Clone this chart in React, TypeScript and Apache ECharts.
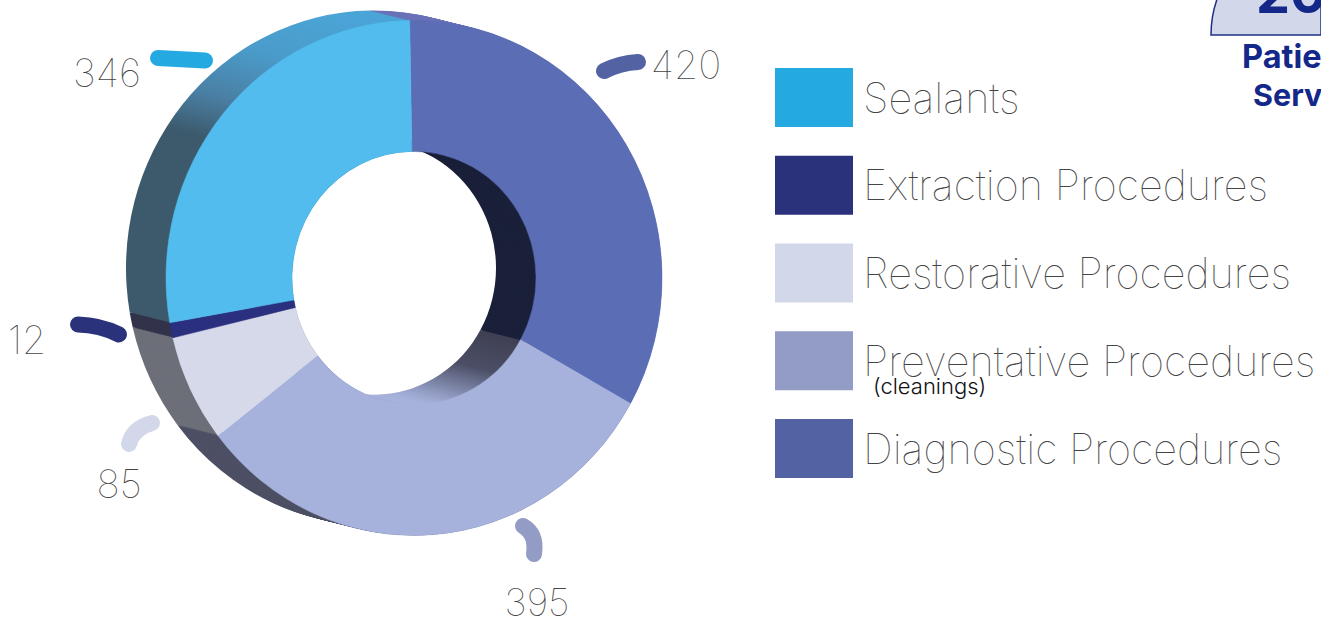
import React, { useEffect, useRef } from "react";
import * as echarts from "echarts";

// Procedure counts, clockwise from the top of the ring
const procedures = ["Diagnostic Procedures", "Preventative Procedures", "Restorative Procedures", "Extraction Procedures", "Sealants"];
const procedureCounts = [420, 395, 85, 12, 346];

// Legend runs in its own order
const legendOrder = ["Sealants", "Extraction Procedures", "Restorative Procedures", "Preventative Procedures", "Diagnostic Procedures"];

const faceColors = ["#5b6db5", "#a7b2dc", "#d5d9ea", "#2a2f7e", "#52bcee"];
const swatchColors = ["#5362a2", "#939cc4", "#d2d8e9", "#2a327b", "#25a9e1"];
const outerWallColors = ["#6a72b8", "#4d5064", "#6c6f78", "#32334a", "#3c5a6c"];
const innerWallColors = ["#1a2039", "#3e3f52", "#6c6f78", "#32334a", "#3c5a6c"];

const FONT = "Inter";
const CX = 414;
const CY = 278;
const R = 248;
const R0 = 122;
const SCALE_Y = 1.038;
const DEPTH_X = 40;
const DEPTH_Y = 10;
const START_DEG = -1;
const STEPS = 20;
const RING = 6;

const total = procedureCounts.reduce((a, b) => a + b, 0);

function sliceAngles(i: number) {
  const before = procedureCounts.slice(0, i).reduce((a, b) => a + b, 0);
  const toRad = (deg: number) => ((deg - 90) * Math.PI) / 180;
  return {
    startAngle: toRad(START_DEG + (before / total) * 360),
    endAngle: toRad(START_DEG + ((before + procedureCounts[i]) / total) * 360),
  };
}

const gradient = (y1: number, y2: number, stops: [number, string][]) => ({
  type: "linear",
  global: true,
  x: 0,
  y: y1,
  x2: 0,
  y2,
  colorStops: stops.map(([offset, color]) => ({ offset, color })),
});

function outerWallFill(i: number) {
  if (procedures[i] === "Sealants") {
    return gradient(-262, -135, [
      [0, "#4aa9dc"],
      [0.4, "#4a9bc9"],
      [0.72, "#4a7fa3"],
      [1, "#3c5a6c"],
    ]);
  }
  return outerWallColors[i];
}

function innerWallFill(i: number) {
  if (procedures[i] === "Preventative Procedures") {
    return gradient(60, 122, [
      [0, "#3e3f52"],
      [0.5, "#4b4e65"],
      [0.8, "#7d86a8"],
      [1, "#a7b2dc"],
    ]);
  }
  return innerWallColors[i];
}

// One slab of the ring's thickness: thin outer and inner bands for every slice
const wallSeries = Array.from({ length: STEPS + 1 }, (_, n) => {
  const t = 1 - n / STEPS;
  return {
    type: "custom",
    coordinateSystem: "none",
    silent: true,
    name: "wall",
    data: procedureCounts,
    renderItem: (params: any) => {
      const i = params.dataIndex;
      const a = sliceAngles(i);
      const common = { x: CX - DEPTH_X * t, y: CY - DEPTH_Y * t, scaleY: SCALE_Y };
      return {
        type: "group",
        children: [
          {
            type: "sector",
            ...common,
            shape: { cx: 0, cy: 0, r: R, r0: R - RING, clockwise: true, ...a },
            style: { fill: outerWallFill(i) },
          },
          {
            type: "sector",
            ...common,
            shape: { cx: 0, cy: 0, r: R0 + RING, r0: R0, clockwise: true, ...a },
            style: { fill: innerWallFill(i) },
          },
        ],
      };
    },
  };
});

// The ring's front face; one series per procedure so the legend can name it
const faceSeries = procedures.map((name, i) => ({
  type: "custom",
  coordinateSystem: "none",
  name,
  data: [procedureCounts[i]],
  renderItem: () => ({
    type: "sector",
    x: CX,
    y: CY,
    scaleY: SCALE_Y,
    shape: { cx: 0, cy: 0, r: R, r0: R0, clockwise: true, ...sliceAngles(i) },
    style: { fill: faceColors[i], stroke: faceColors[i], lineWidth: 0.5 },
  }),
}));

const valueLabel = (i: number, x: number, y: number, fontSize = 39) => ({
  type: "text",
  x,
  y,
  style: {
    text: String(procedureCounts[i]),
    fontFamily: FONT,
    fontSize,
    fontWeight: 100,
    lineHeight: 30,
    fill: "#444",
    align: "center",
    verticalAlign: "middle",
    textAlign: "center",
    textVerticalAlign: "middle",
  },
});

// Rounded leader stroke, bent through a single control point
const tick = (i: number, x1: number, y1: number, cx: number, cy: number, x2: number, y2: number) => ({
  type: "bezierCurve",
  shape: {
    x1,
    y1,
    cpx1: x1 + (2 / 3) * (cx - x1),
    cpy1: y1 + (2 / 3) * (cy - y1),
    cpx2: x2 + (2 / 3) * (cx - x2),
    cpy2: y2 + (2 / 3) * (cy - y2),
    x2,
    y2,
  },
  style: { stroke: swatchColors[i], lineWidth: 16, lineCap: "round", fill: "none" },
});

const badgeText = (text: string, x: number, y: number, fontSize: number) => ({
  type: "text",
  x,
  y,
  style: { text, fontFamily: FONT, fontWeight: 700, fontSize, fill: "#14288a", align: "left", verticalAlign: "top", textAlign: "left", textVerticalAlign: "top" },
});

export default function App() {
  const ref = useRef<HTMLDivElement>(null);
  useEffect(() => {
    document.body.style.margin = "0";
    document.body.style.overflow = "hidden";
    const chart = echarts.init(ref.current!, null, { renderer: "svg" });
    chart.setOption({
      animation: false,
      backgroundColor: "#fff",
      legend: {
        left: 775,
        top: 68,
        padding: 0,
        orient: "vertical",
        itemWidth: 78,
        itemHeight: 59,
        itemGap: 28.75,
        selectedMode: false,
        icon: "rect",
        textStyle: { fontFamily: FONT, fontWeight: 100, fontSize: 41.5, lineHeight: 34, color: "#444", padding: [0, 0, 10, 5] },
        data: legendOrder.map((name) => ({
          name,
          itemStyle: { color: swatchColors[procedures.indexOf(name)] },
        })),
      },
      series: [...wallSeries, ...faceSeries],
      graphic: [
        tick(4, 158, 58, 180, 59, 205, 60.5),
        tick(0, 604, 71, 620, 63, 638, 62),
        tick(3, 78, 324.5, 100, 325, 119, 334.5),
        tick(2, 129, 444, 133, 428, 152, 423),
        tick(1, 523, 526, 537, 534, 534, 554),
        valueLabel(4, 107, 72),
        valueLabel(0, 686, 64),
        valueLabel(3, 27, 339),
        valueLabel(2, 119, 483),
        valueLabel(1, 537, 602, 38),
        {
          type: "text",
          x: 873,
          y: 386,
          style: { text: "(cleanings)", fontFamily: FONT, fontWeight: 300, fontSize: 22, lineHeight: 20, fill: "#111", align: "left", verticalAlign: "middle", textAlign: "left", textVerticalAlign: "middle" },
        },
        {
          type: "sector",
          shape: { cx: 1321, cy: 35, r: 110, r0: 0, startAngle: Math.PI, endAngle: 1.5 * Math.PI, clockwise: true },
          style: { fill: "#d2d8e9", stroke: "#1f2f86", lineWidth: 1.5 },
        },
        badgeText("20", 1256, -33.5, 54),
        badgeText("Patie", 1242, 40.4, 32.5),
        badgeText("Serv", 1253, 79.2, 30.5),
      ],
    });
    return () => chart.dispose();
  }, []);
  return <div ref={ref} style={{ width: 1321, height: 621, overflow: "hidden" }} />;
}
